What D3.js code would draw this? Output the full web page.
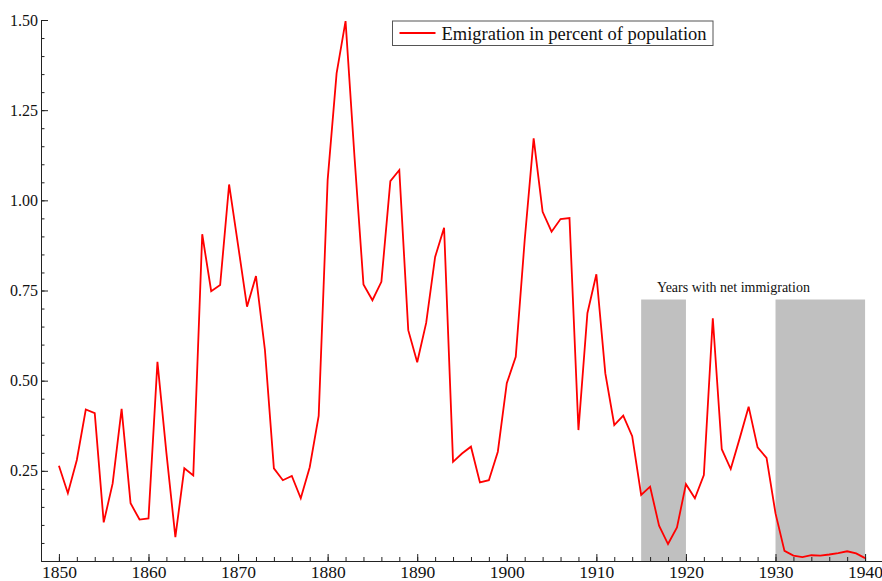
<!DOCTYPE html>
<html>
<head>
<meta charset="utf-8">
<script src="https://cdn.jsdelivr.net/npm/d3@7"></script>
<style>
    body { margin: 0; background: #fff; }
    svg { display: block; }
    svg text { font-family: 'Liberation Serif', 'DejaVu Serif', serif; }
</style>
</head>
<body>
<svg id="chart" width="882" height="581"></svg>
<script>
// years and emigration values (percent of population)
const years = d3.range(1850, 1941);
const emigration = [
    0.264, 0.188, 0.280, 0.420, 0.410, 0.107, 0.215, 0.422, 0.160, 0.115,
    0.118, 0.552, 0.300, 0.066, 0.257, 0.237, 0.906, 0.748, 0.765, 1.044,
    0.876, 0.705, 0.790, 0.585, 0.257, 0.224, 0.236, 0.174, 0.260, 0.402,
    1.056, 1.352, 1.497, 1.120, 0.767, 0.723, 0.774, 1.053, 1.084, 0.640,
    0.551, 0.660, 0.843, 0.924, 0.275, 0.298, 0.317, 0.218, 0.224, 0.303,
    0.493, 0.566, 0.890, 1.172, 0.968, 0.913, 0.948, 0.951, 0.363, 0.687,
    0.795, 0.520, 0.377, 0.403, 0.346, 0.183, 0.206, 0.098, 0.047, 0.093,
    0.213, 0.174, 0.238, 0.673, 0.310, 0.255, 0.340, 0.428, 0.315, 0.286,
    0.132, 0.028, 0.015, 0.011, 0.016, 0.015, 0.018, 0.022, 0.027, 0.021,
    0.008
];
// years with net immigration (shaded)
const netImmigration = [[1915, 1920], [1930, 1940]];
const shadeTop = 0.725;
const xTicks = d3.range(1850, 1941, 10);
const yTicks = [0.25, 0.50, 0.75, 1.00, 1.25, 1.50];
const seriesName = 'Emigration in percent of population';
const shadeLabel = 'Years with net immigration';

const svg = d3.select('#chart');

const x = d3.scaleLinear().domain([1848, 1942]).range([41, 883]);
const y = d3.scaleLinear().domain([0, 1.5]).range([561, 20]);

// shaded bands
svg.selectAll('.band')
    .data(netImmigration)
    .enter()
    .append('rect')
    .attr('class', 'band')
    .attr('x', d => x(d[0]))
    .attr('y', y(shadeTop))
    .attr('width', d => x(d[1]) - x(d[0]))
    .attr('height', y(0) - y(shadeTop))
    .attr('fill', '#c0c0c0');

svg.append('text')
    .attr('x', x(1925.3))
    .attr('y', y(shadeTop) - 8)
    .attr('text-anchor', 'middle')
    .attr('font-size', '14px')
    .attr('fill', '#111')
    .text(shadeLabel);

// x axis: minor then major
svg.append('g')
    .attr('transform', 'translate(0,' + y(0) + ')')
    .call(d3.axisBottom(x).tickValues(d3.range(1850, 1941, 2)).tickSize(-4).tickSizeOuter(0).tickFormat(''))
    .call(g => g.selectAll('line,path').attr('stroke', '#222'));

svg.append('g')
    .attr('transform', 'translate(0,' + y(0) + ')')
    .call(d3.axisBottom(x).tickValues(xTicks).tickSize(-7).tickSizeOuter(0).tickPadding(5).tickFormat(d3.format('d')))
    .attr('font-size', '17.5px')
    .call(g => g.selectAll('line,path').attr('stroke', '#222'))
    .call(g => g.selectAll('text').attr('fill', '#111').attr('font-family', "'Liberation Serif', serif"));

// y axis: minor then major
svg.append('g')
    .attr('transform', 'translate(' + x(1848) + ',0)')
    .call(d3.axisLeft(y).tickValues(d3.range(1, 31).map(i => i * 0.05)).tickSize(-3.5).tickSizeOuter(0).tickFormat(''))
    .call(g => g.selectAll('line,path').attr('stroke', '#222'));

svg.append('g')
    .attr('transform', 'translate(' + x(1848) + ',0)')
    .call(d3.axisLeft(y).tickValues(yTicks).tickSize(-7).tickSizeOuter(0).tickPadding(3).tickFormat(d3.format('.2f')))
    .attr('font-size', '16px')
    .call(g => g.selectAll('line,path').attr('stroke', '#222'))
    .call(g => g.selectAll('text').attr('fill', '#111').attr('font-family', "'Liberation Serif', serif"));

// the series line
const line = d3.line()
    .x((d, i) => x(years[i]))
    .y(d => y(d));

svg.append('path')
    .datum(emigration)
    .attr('d', line)
    .attr('fill', 'none')
    .attr('stroke', '#ff0000')
    .attr('stroke-width', 1.8)
    .attr('stroke-linejoin', 'miter');

// legend
const legend = svg.append('g').attr('transform', 'translate(392.5,21)');
legend.append('rect')
    .attr('width', 320.5)
    .attr('height', 24.5)
    .attr('fill', '#fff')
    .attr('stroke', '#555');
legend.append('line')
    .attr('x1', 7).attr('x2', 43)
    .attr('y1', 12).attr('y2', 12)
    .attr('stroke', '#ff0000')
    .attr('stroke-width', 1.8);
legend.append('text')
    .attr('x', 49)
    .attr('y', 19)
    .attr('font-size', '18.5px')
    .attr('fill', '#111')
    .text(seriesName);
</script>
</body>
</html>
